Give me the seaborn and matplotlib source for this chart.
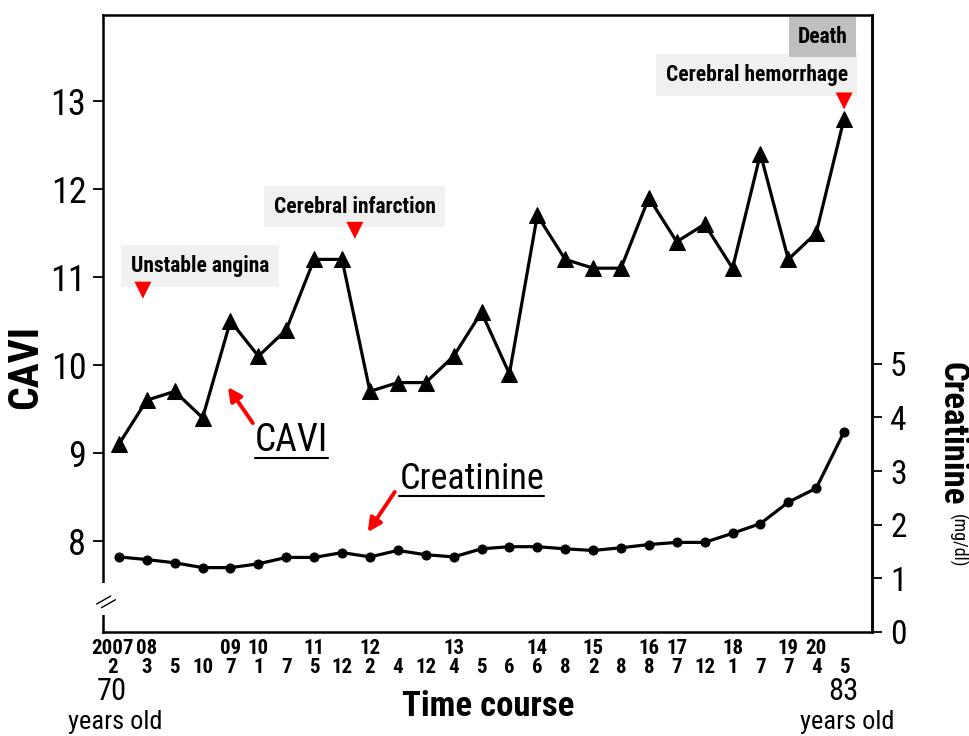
import seaborn as sns
import matplotlib.pyplot as plt
import matplotlib.patches as mpatches
import matplotlib.transforms as mtransforms
from matplotlib.lines import Line2D
import numpy as np

# time course (year, month) of each visit
years = ["2007", "08", "", "", "09", "10", "", "11", "", "12", "", "", "13", "", "",
         "14", "", "15", "", "16", "17", "", "18", "", "19", "20", ""]
months = ["2", "3", "5", "10", "7", "1", "7", "5", "12", "2", "4", "12", "4", "5", "6",
          "6", "8", "2", "8", "8", "7", "12", "1", "7", "7", "4", "5"]

cavi = [9.1, 9.6, 9.7, 9.4, 10.5, 10.1, 10.4, 11.2, 11.2, 9.7, 9.8, 9.8, 10.1, 10.6, 9.9,
        11.7, 11.2, 11.1, 11.1, 11.9, 11.4, 11.6, 11.1, 12.4, 11.2, 11.5, 12.8]
creatinine = [1.40, 1.35, 1.29, 1.20, 1.20, 1.27, 1.39, 1.39, 1.48, 1.40, 1.52, 1.44, 1.40,
              1.55, 1.59, 1.59, 1.55, 1.52, 1.57, 1.63, 1.67, 1.67, 1.84, 2.02, 2.42, 2.68, 3.73]

# clinical events (position along time course, level on CAVI axis)
events = ["Unstable angina", "Cerebral infarction", "Cerebral hemorrhage"]
event_pos = [0.86, 8.46, 26.0]
event_level = [10.85, 11.53, 13.0]

age_start, age_end = 70, 83

sns.set_style("ticks", rc={'text.color': 'black', 'axes.labelcolor': 'black',
                           'xtick.color': 'black', 'ytick.color': 'black'})
plt.rcParams['font.family'] = ['Roboto Condensed', 'Liberation Sans Narrow', 'Roboto', 'DejaVu Sans']
plt.rcParams['font.stretch'] = 'condensed'

fig = plt.figure(figsize=(9.69, 7.36), dpi=100)
ax = fig.add_axes([103 / 969, 1 - 632 / 736, 769 / 969, 617 / 736])
idx = np.arange(len(cavi))

# CAVI
sns.lineplot(x=idx, y=cavi, ax=ax, color='black', lw=2.3, marker='^', markersize=11,
             markeredgecolor='black', markerfacecolor='black')
# events
sns.scatterplot(x=event_pos, y=event_level, ax=ax, marker='v', s=150, color='red',
                edgecolor='none', zorder=4)
ax.set_xlim(-0.57, 27.0)
ax.set_ylim(6.966, 13.977)
ax.set_yticks(range(8, 14))
ax.set_xticks(idx)
ax.set_xticklabels([f"{y}\n{m}" for y, m in zip(years, months)], fontsize=15,
                   fontweight='bold', linespacing=1.0)
ax.tick_params(axis='x', length=0, pad=5)
ax.tick_params(axis='y', labelsize=26, length=7, width=1.3, direction='out', pad=5)
ax.set_xlabel('')
ax.set_ylabel('')
for sp in ax.spines.values():
    sp.set_linewidth(1.8)
    sp.set_color('black')

# Creatinine on right axis
ax2 = ax.twinx()
sns.lineplot(x=idx, y=creatinine, ax=ax2, color='black', lw=2.3, marker='o', markersize=6.5,
             markeredgecolor='black', markerfacecolor='black')
ax2.set_ylim(0, 11.5)
ax2.set_yticks(range(0, 6))
ax2.tick_params(axis='y', labelsize=24, length=7, width=1.3, direction='out', pad=6)
ax2.set_ylabel('')
for name, sp in ax2.spines.items():
    sp.set_visible(name == 'right')
    sp.set_linewidth(1.8)
    sp.set_color('black')

# event labels
box_light = dict(boxstyle='square,pad=0.45', fc='#f0f0f0', ec='none')
ax.text(2.9, 11.125, events[0], ha='center', va='center', fontsize=15.5, fontweight='bold', bbox=box_light)
ax.text(8.46, 11.80, events[1], ha='center', va='center', fontsize=15.5, fontweight='bold', bbox=box_light)
ax.text(26.13, 13.295, events[2], ha='right', va='center', fontsize=15.5, fontweight='bold', bbox=box_light)
ax.text(26.13, 13.727, "Death", ha='right', va='center', fontsize=15.5, fontweight='bold',
        bbox=dict(boxstyle='square,pad=0.4', fc='#bfbfbf', ec='none'))

# series labels with red arrows
arrow = dict(arrowstyle='-|>', color='red', lw=2.8, mutation_scale=20, shrinkA=0, shrinkB=0)
ax.annotate('', xy=(3.91, 9.75), xytext=(4.80, 9.34), arrowprops=arrow)
ax.annotate('', xy=(8.92, 8.10), xytext=(9.89, 8.557), arrowprops=arrow)
t1 = ax.text(6.2, 9.14, "CAVI", ha='center', va='center', fontsize=27)
t2 = ax.text(12.65, 8.70, "Creatinine", ha='center', va='center', fontsize=26)

# axis titles
ax.text(-0.101, (632 - 367) / 617, "CAVI", transform=ax.transAxes, rotation=90,
        ha='center', va='center', fontsize=30, fontweight='bold')
fig.text(952 / 969, 1 - 362 / 736, "Creatinine", rotation=-90, ha='center', va='top',
         fontsize=25, fontweight='bold')
fig.text(957 / 969, 1 - 514 / 736, "(mg/dl)", rotation=-90, ha='center', va='top', fontsize=13)
fig.text(488 / 969, 1 - 706 / 736, "Time course", ha='center', va='center', fontsize=25, fontweight='bold')
fig.text(112 / 969, 1 - 691 / 736, str(age_start), ha='center', va='center', fontsize=22)
fig.text(115 / 969, 1 - 722 / 736, "years old", ha='center', va='center', fontsize=19)
fig.text(843 / 969, 1 - 692 / 736, str(age_end), ha='center', va='center', fontsize=22)
fig.text(847 / 969, 1 - 722 / 736, "years old", ha='center', va='center', fontsize=19)

# axis break on left spine
fig.add_artist(mpatches.Rectangle((-0.02, 0.0276), 0.04, 0.0518, transform=ax.transAxes,
                                  fc='white', ec='none', zorder=10))
for dx, dy in ((0.0, 0.0), (0.0062, -0.006)):
    fig.add_artist(Line2D([-0.0082 + dx, 0.0100 + dx], [0.0454 + dy, 0.0583 + dy],
                          transform=ax.transAxes, color='black', lw=1.0, zorder=11))

# nudge the first time label left so "2007" clears "08"
first = ax.get_xticklabels()[0]
first.set_transform(first.get_transform() + mtransforms.ScaledTranslation(-6 / 100, 0, fig.dpi_scale_trans))

# underline the series labels
fig.canvas.draw()
r = fig.canvas.get_renderer()
for t in (t1, t2):
    bb = t.get_window_extent(r)
    fig.add_artist(Line2D([bb.x0, bb.x1], [bb.y0 + 1, bb.y0 + 1], transform=None,
                          color='black', lw=1.5))

plt.savefig('out.png', dpi=100)
